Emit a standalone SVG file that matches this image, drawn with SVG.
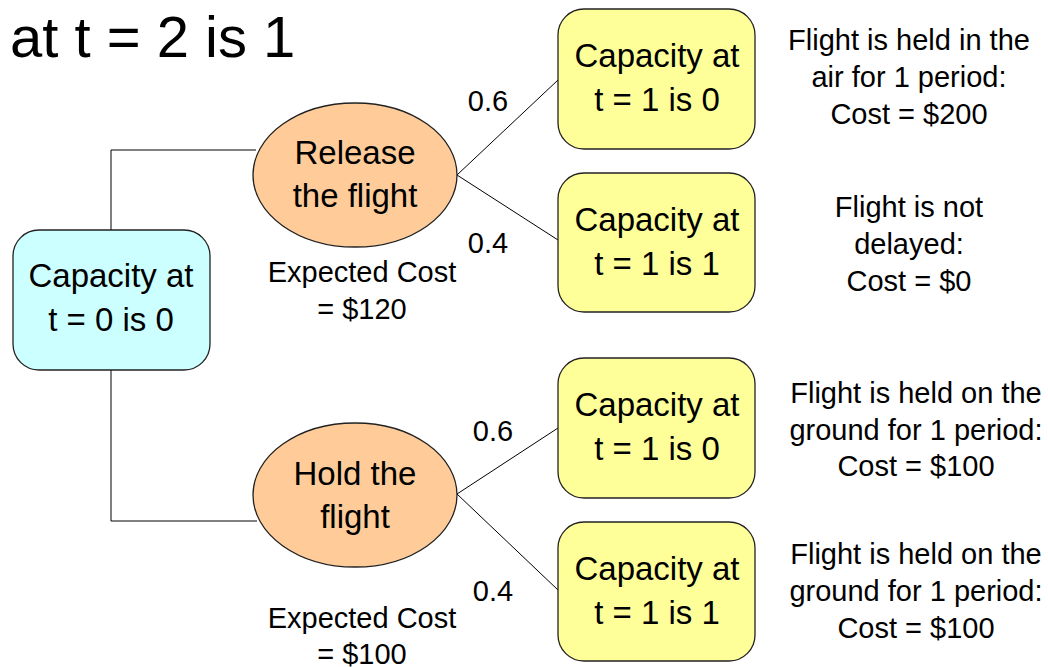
<svg xmlns="http://www.w3.org/2000/svg" width="1048" height="667" viewBox="0 0 1048 667">
<style>
text{font-family:"Liberation Sans",Arial,sans-serif;fill:#000;text-anchor:middle}
.n{font-size:33px}
.s{font-size:29px}
.box{stroke:#222;stroke-width:1.3}
.c{fill:none;stroke:#000;stroke-width:1}
</style>
<rect width="1048" height="667" fill="#fff"/>
<text x="10" y="57" style="font-size:58px;text-anchor:start">at t = 2 is 1</text>
<g id="connectors">
<polyline class="c" points="111,230 111,150 256,150"/>
<polyline class="c" points="111,370 111,521 257,521"/>
<line class="c" x1="457" y1="175" x2="558" y2="80"/>
<line class="c" x1="457" y1="175" x2="558" y2="240"/>
<line class="c" x1="457" y1="494" x2="558" y2="428"/>
<line class="c" x1="457" y1="494" x2="558" y2="590"/>
</g>
<g id="root">
<rect class="box" x="13" y="230" width="197" height="140" rx="26" fill="#ccffff"/>
<text class="n" x="111" y="287">Capacity at</text>
<text class="n" x="111" y="331">t = 0 is 0</text>
</g>
<g id="release">
<ellipse class="box" cx="355" cy="175" rx="102" ry="72" fill="#ffcc99"/>
<text class="n" x="355" y="164">Release</text>
<text class="n" x="355" y="207">the flight</text>
<text class="s" x="362" y="282">Expected Cost</text>
<text class="s" x="362" y="319">= $120</text>
</g>
<g id="hold">
<ellipse class="box" cx="355" cy="495" rx="102" ry="72" fill="#ffcc99"/>
<text class="n" x="355" y="485">Hold the</text>
<text class="n" x="355" y="528">flight</text>
<text class="s" x="362" y="628">Expected Cost</text>
<text class="s" x="362" y="664">= $100</text>
</g>
<g id="probs">
<text class="s" x="488" y="111">0.6</text>
<text class="s" x="488" y="253">0.4</text>
<text class="s" x="493" y="441">0.6</text>
<text class="s" x="493" y="601">0.4</text>
</g>
<g id="r1">
<rect class="box" x="558" y="9" width="197" height="140" rx="26" fill="#ffff99"/>
<text class="n" x="657" y="67">Capacity at</text>
<text class="n" x="657" y="111">t = 1 is 0</text>
<text class="s" x="909" y="50">Flight is held in the</text>
<text class="s" x="909" y="87">air for 1 period:</text>
<text class="s" x="909" y="124">Cost = $200</text>
</g>
<g id="r2">
<rect class="box" x="558" y="173" width="197" height="139" rx="26" fill="#ffff99"/>
<text class="n" x="657" y="231">Capacity at</text>
<text class="n" x="657" y="275">t = 1 is 1</text>
<text class="s" x="909" y="217">Flight is not</text>
<text class="s" x="909" y="254">delayed:</text>
<text class="s" x="909" y="291">Cost = $0</text>
</g>
<g id="h1">
<rect class="box" x="558" y="358" width="197" height="140" rx="26" fill="#ffff99"/>
<text class="n" x="657" y="416">Capacity at</text>
<text class="n" x="657" y="460">t = 1 is 0</text>
<text class="s" x="916" y="403">Flight is held on the</text>
<text class="s" x="916" y="440">ground for 1 period:</text>
<text class="s" x="916" y="476">Cost = $100</text>
</g>
<g id="h2">
<rect class="box" x="558" y="522" width="197" height="139" rx="26" fill="#ffff99"/>
<text class="n" x="657" y="580">Capacity at</text>
<text class="n" x="657" y="624">t = 1 is 1</text>
<text class="s" x="916" y="564">Flight is held on the</text>
<text class="s" x="916" y="601">ground for 1 period:</text>
<text class="s" x="916" y="638">Cost = $100</text>
</g>
</svg>
